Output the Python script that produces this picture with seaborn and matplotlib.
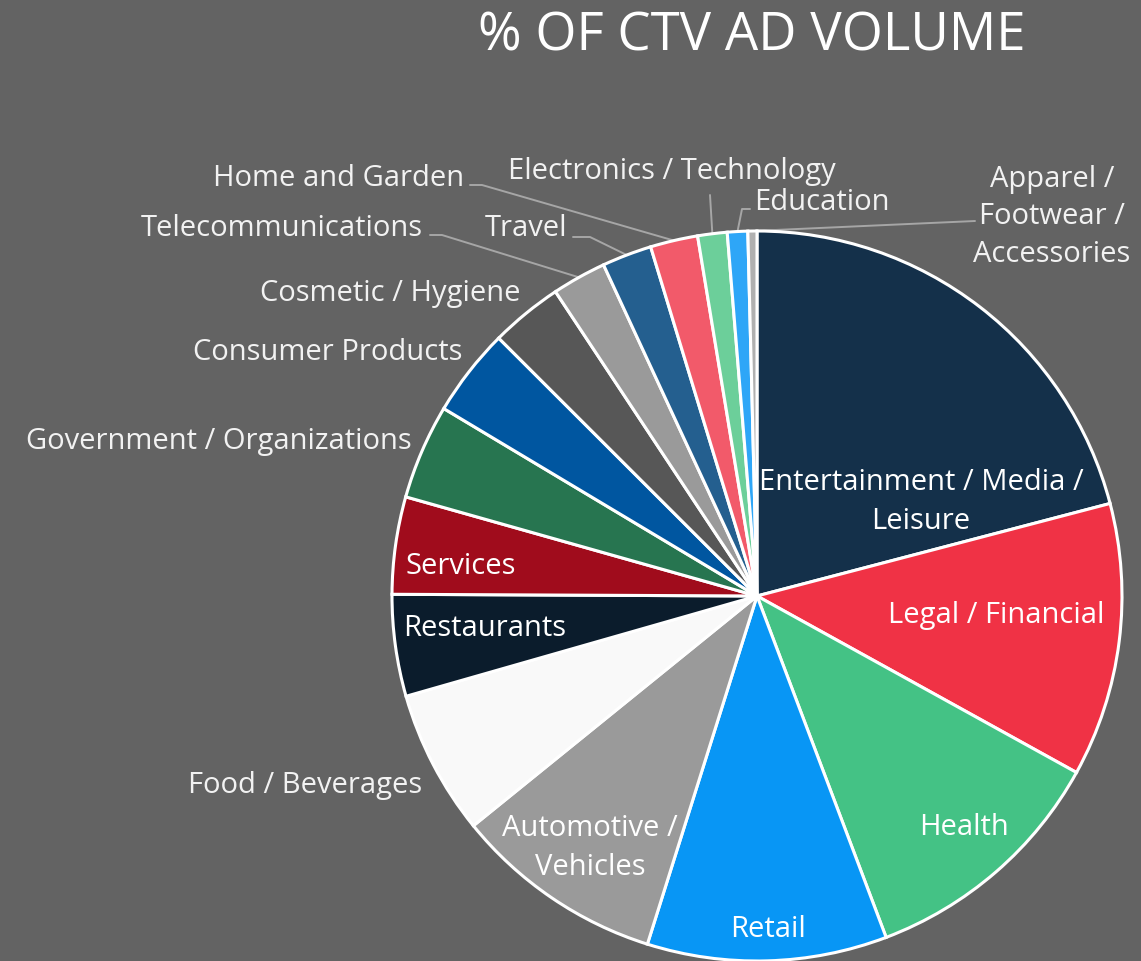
import numpy as np
import matplotlib
matplotlib.use("Agg")
import matplotlib.pyplot as plt
import seaborn as sns

# share of CTV ad volume (%), clockwise from 12 o'clock
categories = ["Entertainment / Media / Leisure", "Legal / Financial", "Health", "Retail",
              "Automotive / Vehicles", "Food / Beverages", "Restaurants", "Services",
              "Government / Organizations", "Consumer Products", "Cosmetic / Hygiene",
              "Telecommunications", "Travel", "Home and Garden", "Electronics / Technology",
              "Education", "Apparel / Footwear / Accessories"]
share = [20.9, 12.1, 11.2, 10.6, 9.3, 6.4, 4.5, 4.3, 4.2, 3.9, 3.2, 2.4, 2.2, 2.1, 1.3, 0.9, 0.4]
colors = ["#14304a", "#f03245", "#44c285", "#0896f5", "#9a9a9a", "#f9f9f9", "#0b1c2c",
          "#a00c1c", "#277550", "#0056a0", "#575757", "#9a9a9a", "#245f8f", "#f25a6a",
          "#6ccf9a", "#2ea6f7", "#b0b0b0"]

sns.set_theme(style="white")
plt.rcParams["font.family"] = ["Open Sans", "DejaVu Sans"]

BG = "#636363"
W, H = 1141, 962
fig = plt.figure(figsize=(W / 100, H / 100), dpi=100, facecolor=BG)
ax = fig.add_axes([0, 0, 1, 1])
ax.set_facecolor(BG)

cx, cy, R = 757, H - 597, 365
wedges, _ = ax.pie(share, colors=colors, startangle=90, counterclock=False,
                   center=(cx, cy), radius=R, frame=True,
                   wedgeprops=dict(edgecolor="white", linewidth=2.2))
ax.set_xlim(0, W)
ax.set_ylim(0, H)
ax.axis("off")

fs = 21

def yy(y):
    return H - y

# labels inside the pie (pixel positions from top-left)
inside = {
    0: ("Entertainment / Media /\nLeisure", 921, 502, "center"),
    1: ("Legal / Financial", 996, 615, "center"),
    2: ("Health", 964, 828, "center"),
    3: ("Retail", 768, 930, "center"),
    4: ("Automotive /\nVehicles", 590, 848, "center"),
    6: ("Restaurants", 403, 628, "left"),
    7: ("Services", 405, 566, "left"),
}
for i, (txt, x, y, ha) in inside.items():
    ax.text(x, yy(y), txt, ha=ha, va="center", color="white", fontsize=fs,
            linespacing=1.42)

# labels outside without leader lines
plain = {
    5: ("Food / Beverages", 422, 786, "right"),
    8: ("Government / Organizations", 412, 442, "right"),
    9: ("Consumer Products", 462, 352, "right"),
    10: ("Cosmetic / Hygiene", 520, 294, "right"),
}
for i, (txt, x, y, ha) in plain.items():
    ax.text(x, yy(y), txt, ha=ha, va="center", color="#f2f2f2", fontsize=fs)

# labels with leader lines: text, text pos, ha, elbow points (pixels)
leader = {
    11: ("Telecommunications", 423, 228, "right", [(430, 236), (442, 236)]),
    12: ("Travel", 567, 228, "right", [(573, 238), (590, 238)]),
    13: ("Home and Garden", 464, 178, "right", [(470, 186), (482, 186)]),
    14: ("Electronics / Technology", 672, 172, "center", [(710, 196)]),
    15: ("Education", 754, 202, "left", [(750, 210), (742, 210)]),
    16: ("Apparel /\nFootwear /\nAccessories", 1052, 217, "center", [(975, 222)]),
}
for i, (txt, x, y, ha, pts) in leader.items():
    w = wedges[i]
    mid = np.deg2rad((w.theta1 + w.theta2) / 2)
    ex, ey = cx + R * np.cos(mid), cy + R * np.sin(mid)
    xs = [p[0] for p in pts] + [ex]
    ys = [yy(p[1]) for p in pts] + [ey]
    ax.plot(xs, ys, color="#a6a6a6", lw=1.4, zorder=0.5)
    ax.text(x, yy(y), txt, ha=ha, va="center", color="#f2f2f2", fontsize=fs,
            linespacing=1.4)

ax.text(752, yy(37), "% OF CTV AD VOLUME", ha="center", va="center",
        color="white", fontsize=38)

fig.savefig("out.png", dpi=100, facecolor=BG)
